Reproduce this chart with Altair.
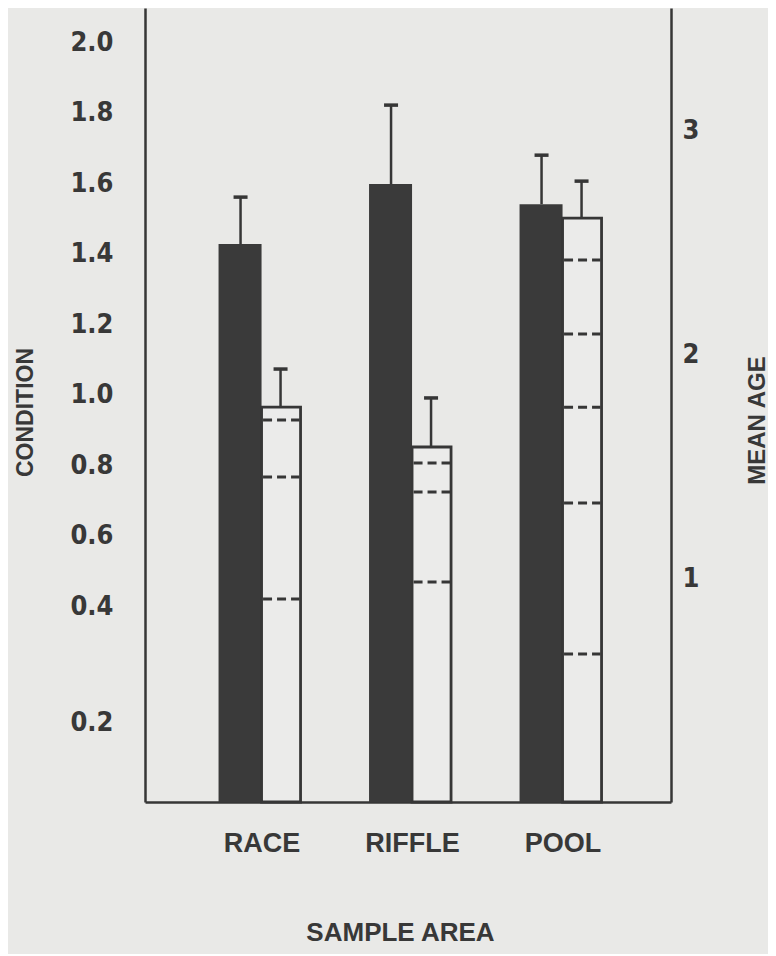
import altair as alt
import pandas as pd

# ---------------- data ----------------
AREAS = ["RACE", "RIFFLE", "POOL"]
CONDITION = [1.427, 1.597, 1.540]
CONDITION_UPPER = [1.560, 1.821, 1.679]
MEAN_AGE = [1.763, 1.585, 2.607]
MEAN_AGE_UPPER = [1.933, 1.804, 2.772]
RACE_LEVELS = [1.705, 1.451, 0.906]
RIFFLE_LEVELS = [1.513, 1.384, 0.982]
POOL_LEVELS = [2.420, 2.089, 1.763, 1.335, 0.661]
CONDITION_TICKS = [0.2, 0.4, 0.6, 0.8, 1.0, 1.2, 1.4, 1.6, 1.8, 2.0]
AGE_TICKS = [1, 2, 3]
COND_DOMAIN = [-0.156, 2.0965]
AGE_DOMAIN = [0, 3.545]

cond_df = pd.DataFrame({"area": AREAS, "cond": CONDITION, "cond_hi": CONDITION_UPPER})
age_df = pd.DataFrame({"area": AREAS, "age": MEAN_AGE, "age_hi": MEAN_AGE_UPPER})
level_rows = []
for a, lv in zip(AREAS, [RACE_LEVELS, RIFFLE_LEVELS, POOL_LEVELS]):
    for v in lv:
        level_rows.append({"area": a, "level": v})
level_df = pd.DataFrame(level_rows)

# ---------------- styles ----------------
BG = "#e9e9e7"
DARK = "#3a3a3a"
LINE = "#363636"
LIGHT = "#ebebea"
TEXT = "#383838"
NARROW = "Liberation Sans Narrow, DejaVu Sans Condensed, Roboto, sans-serif"
BOLD = "Liberation Sans, Arial, sans-serif"

x_scale = alt.Scale(type="point", domain=AREAS, padding=0.7475, align=0.518)
x_axis = alt.Axis(
    title="SAMPLE AREA", labelAngle=0, ticks=False, grid=False,
    domainColor=LINE, domainWidth=2.5,
    labelFont=BOLD, labelFontWeight="bold", labelFontSize=27, labelColor=TEXT,
    labelPadding=41, labelBaseline="middle",
    titleFont=BOLD, titleFontWeight="bold", titleFontSize=26, titleColor=TEXT,
    titleX=255, titleY=130, titleBaseline="middle", titleAlign="center",
)
# every layer carries the same x axis so the shared axis merges into one
X_AX = alt.X("area:N", scale=x_scale, axis=x_axis, sort=AREAS)

cond_scale = alt.Scale(domain=COND_DOMAIN, nice=False, zero=False)
age_scale = alt.Scale(domain=AGE_DOMAIN, nice=False, zero=False)

left_axis = alt.Axis(
    title="CONDITION", orient="left", values=CONDITION_TICKS, format=".1f",
    ticks=False, grid=False, domainColor=LINE, domainWidth=2.5,
    labelFont=NARROW, labelFontWeight="bold", labelFontSize=27, labelColor=TEXT,
    labelPadding=32,
    labelOffset={"condition": {"test": "datum.value < 0.3", "value": 45.5}, "value": 0},
    titleFont=BOLD, titleFontWeight="bold", titleFontSize=23, titleColor=TEXT,
    titleAngle=270, titleX=-120, titleY=404, titleAlign="center", titleBaseline="middle",
)
right_axis = alt.Axis(
    title="MEAN AGE", orient="right", values=AGE_TICKS, format="d",
    ticks=False, grid=False, domainColor=LINE, domainWidth=2.5,
    labelFont=NARROW, labelFontWeight="bold", labelFontSize=27, labelColor=TEXT,
    labelPadding=11,
    titleFont=BOLD, titleFontWeight="bold", titleFontSize=24, titleColor=TEXT,
    titleAngle=270, titleX=86, titleY=412, titleAlign="center", titleBaseline="middle",
)

# ---------------- condition (dark bars, left axis) ----------------
dark_bars = alt.Chart(cond_df).mark_bar(color=DARK, width=43, xOffset=-21.5).encode(
    x=X_AX,
    y=alt.Y("cond:Q", scale=cond_scale, axis=left_axis),
    y2=alt.datum(COND_DOMAIN[0]),
)
dark_stems = alt.Chart(cond_df).mark_rule(color=LINE, strokeWidth=2.5, xOffset=-21).encode(
    x=X_AX,
    y=alt.Y("cond:Q", scale=cond_scale, axis=None),
    y2="cond_hi:Q",
)
dark_caps = alt.Chart(cond_df).mark_rule(color=LINE, strokeWidth=3.5, xOffset=-28, x2Offset=-14).encode(
    x=X_AX, x2=alt.X2("area:N"),
    y=alt.Y("cond_hi:Q", scale=cond_scale, axis=None),
)

# ---------------- mean age (open bars, right axis) ----------------
open_bars = alt.Chart(age_df).mark_bar(
    fill=LIGHT, stroke=LINE, strokeWidth=2.8, width=39, xOffset=19.5
).encode(
    x=X_AX,
    y=alt.Y("age:Q", scale=age_scale, axis=right_axis),
    y2=alt.datum(AGE_DOMAIN[0]),
)
levels = alt.Chart(level_df).mark_rule(
    color=LINE, strokeWidth=3, strokeDash=[9, 5], xOffset=1.5, x2Offset=38
).encode(
    x=X_AX, x2=alt.X2("area:N"),
    y=alt.Y("level:Q", scale=age_scale, axis=None),
)
open_stems = alt.Chart(age_df).mark_rule(color=LINE, strokeWidth=2.5, xOffset=19).encode(
    x=X_AX,
    y=alt.Y("age:Q", scale=age_scale, axis=None),
    y2="age_hi:Q",
)
open_caps = alt.Chart(age_df).mark_rule(color=LINE, strokeWidth=3.5, xOffset=12, x2Offset=26).encode(
    x=X_AX, x2=alt.X2("area:N"),
    y=alt.Y("age_hi:Q", scale=age_scale, axis=None),
)

chart = alt.layer(
    dark_bars, dark_stems, dark_caps, open_bars, levels, open_stems, open_caps
).resolve_scale(y="independent").properties(
    width=526, height=794,
    padding={"left": 137, "top": 0, "right": 97, "bottom": 152},
    autosize=alt.AutoSizeParams(type="none"),
    background=BG,
).configure_view(stroke="transparent")

chart.save("out.html", embed_options={"renderer": "svg", "actions": False})
